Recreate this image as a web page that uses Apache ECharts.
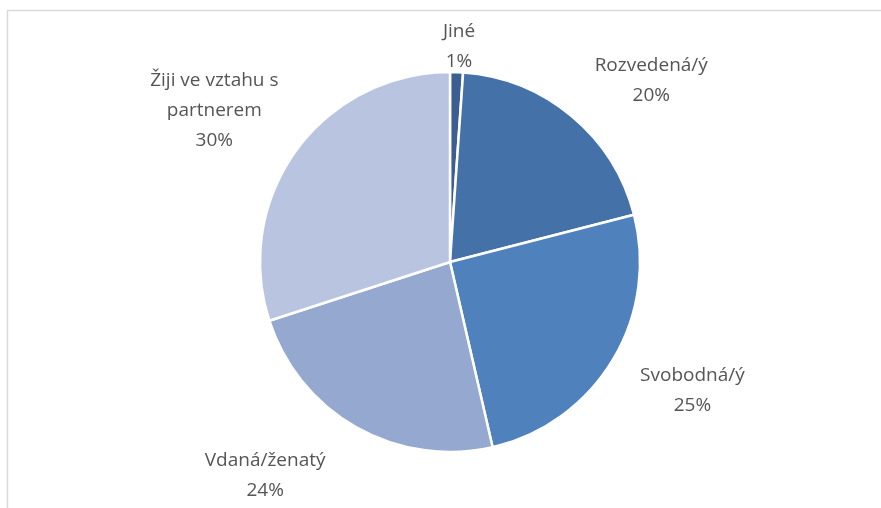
<!DOCTYPE html>
<html>
<head>
<meta charset="utf-8">
<script src="https://cdn.jsdelivr.net/npm/echarts@6/dist/echarts.min.js"></script>
<style>
html,body{margin:0;padding:0;background:#fff;}
#c{width:881px;height:508px;}
</style>
</head>
<body>
<div id="c"></div>
<script>
const categories = ['Jiné', 'Rozvedená/ý', 'Svobodná/ý', 'Vdaná/ženatý', 'Žiji ve vztahu s partnerem'];
const values = [1.1, 19.9, 25.4, 23.6, 30.0];
const colors = ['#3a5f90', '#4472a8', '#4f81bd', '#95a8d0', '#b9c5e0'];

const total = values.reduce((a, b) => a + b, 0);
const CX = 450, CY = 262, R = 190;

function wrap(s, maxChars) {
  const words = s.split(' ');
  const lines = [];
  let cur = '';
  words.forEach(w => {
    const t = cur ? cur + ' ' + w : w;
    if (t.length > maxChars && cur) { lines.push(cur); cur = w; } else { cur = t; }
  });
  if (cur) lines.push(cur);
  return lines.join('\n');
}

// mid angles (clockwise from top)
const mids = [];
let acc = 0;
values.forEach(v => { mids.push((acc + v / 2) / total * 2 * Math.PI); acc += v; });

const chart = echarts.init(document.getElementById('c'), null, {renderer: 'canvas'});
chart.setOption({
  backgroundColor: '#ffffff',
  animation: false,
  graphic: [{
    type: 'rect',
    shape: {x: 7.5, y: 10.5, width: 1000, height: 1000},
    style: {fill: 'none', stroke: '#d9d9d9', lineWidth: 1.5},
    silent: true
  }],
  series: [{
    type: 'pie',
    center: [CX, CY],
    radius: [0, R],
    startAngle: 90,
    clockwise: true,
    avoidLabelOverlap: false,
    itemStyle: {borderColor: '#ffffff', borderWidth: 2.5},
    label: {
      show: true,
      position: 'outside',
      color: '#555555',
      fontFamily: 'Open Sans',
      fontSize: 19,
      lineHeight: 30,
      align: 'center',
      formatter: p => wrap(p.name, 16) + '\n' + Math.round(p.value / total * 100) + '%'
    },
    labelLine: {show: false, length: 0, length2: 0},
    labelLayout: function (params) {
      const i = params.dataIndex;
      const a = mids[i];
      const ux = Math.sin(a), uy = -Math.cos(a);
      const w = params.labelRect.width, h = params.labelRect.height;
      const d = R + 22;
      const px = CX + ux * d, py = CY + uy * d;
      const cl = v => Math.max(-1, Math.min(1, v * 3));
      const lowerLeft = ux < 0 && uy > 0;
      const top = Math.abs(uy) > 0.95;
      return {
        x: px + cl(ux) * w / 2 - (lowerLeft ? 20 : 0) + (ux > 0.3 ? 9 : 0),
        y: py + cl(uy) * h * 0.3 + (top ? 14 : 0) + (lowerLeft ? 11 : 0),
        align: 'center',
        verticalAlign: 'middle'
      };
    },
    data: categories.map((n, i) => ({name: n, value: values[i], itemStyle: {color: colors[i]}}))
  }]
});
</script>
</body>
</html>
